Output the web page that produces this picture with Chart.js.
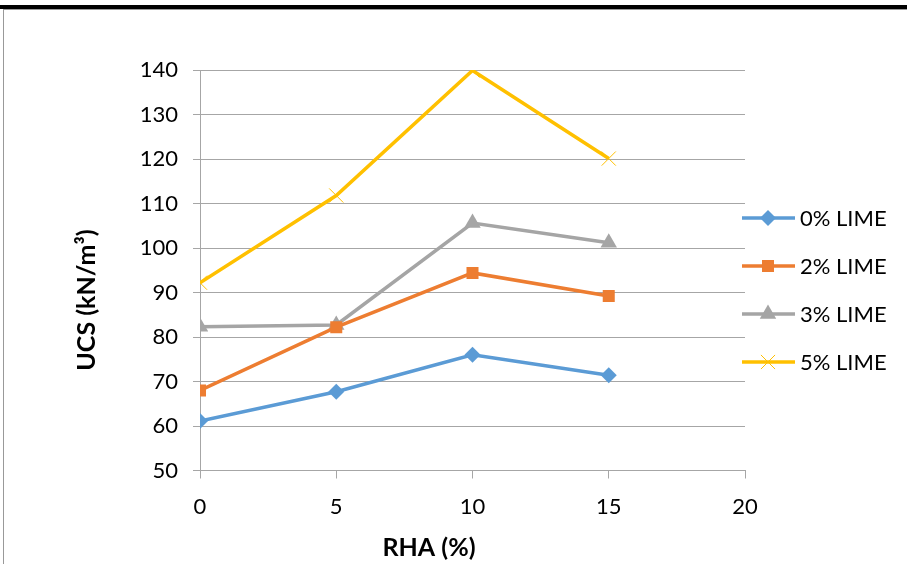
<!DOCTYPE html>
<html>
<head>
<meta charset="utf-8">
<script src="https://cdn.jsdelivr.net/npm/chart.js@4"></script>
<style>
  html, body { margin: 0; padding: 0; background: #fff; }
  #wrap { position: relative; width: 907px; height: 564px; overflow: hidden; }
  #topbar { position: absolute; left: 0; top: 5px; width: 907px; height: 4px; background: #000; }
  #topline { position: absolute; left: 3px; top: 9px; width: 904px; height: 1px; background: #999; }
  #leftline { position: absolute; left: 3px; top: 9px; width: 1px; height: 555px; background: #999; }
  canvas { position: absolute; left: 0; top: 0; }
</style>
</head>
<body>
<div id="wrap">
  <canvas id="c" width="907" height="564"></canvas>
  <div id="topbar"></div>
  <div id="topline"></div>
  <div id="leftline"></div>
</div>
<script>
const rha = [0, 5, 10, 15];
const lime0 = [61.1, 67.7, 76.0, 71.4];
const lime2 = [68.0, 82.2, 94.4, 89.2];
const lime3 = [82.3, 82.7, 105.6, 101.2];
const lime5 = [92.2, 111.8, 139.9, 120.1];
const seriesNames = ['0% LIME', '2% LIME', '3% LIME', '5% LIME'];
const xTitle = 'RHA (%)';
const yTitle = 'UCS (kN/m³)';

const FONT = 'Lato, "Open Sans", sans-serif';
const gridColor = '#a6a6a6';

const styles = [
  { color: '#5b9bd5', point: 'rectRot', r: 8 },
  { color: '#ed7d31', point: 'rect', r: 8.5 },
  { color: '#a5a5a5', point: 'triangle', r: 9.5 },
  { color: '#ffc000', point: 'crossRot', r: 10 }
];

function pts(vals) { return rha.map((x, i) => ({ x, y: vals[i] })); }

const datasets = [lime0, lime2, lime3, lime5].map((vals, i) => ({
  label: seriesNames[i],
  data: pts(vals),
  borderColor: styles[i].color,
  backgroundColor: styles[i].color,
  borderWidth: 3.5,
  pointStyle: styles[i].point,
  pointRadius: styles[i].r,
  pointBorderWidth: styles[i].point === 'crossRot' ? 1 : 0,
  pointBorderColor: styles[i].color,
  tension: 0
}));

// titles and legend drawn by hand so they sit where the original has them
const decor = {
  id: 'decor',
  afterDraw(chart) {
    const ctx = chart.ctx;
    ctx.save();
    ctx.fillStyle = '#000';
    ctx.font = 'bold 25px ' + FONT;
    ctx.textAlign = 'center';
    ctx.textBaseline = 'middle';
    ctx.fillText(xTitle, 429, 548);
    ctx.translate(87, 300);
    ctx.rotate(-Math.PI / 2);
    ctx.fillText(yTitle, 0, 0);
    ctx.restore();

    ctx.save();
    const rows = [218, 266, 314, 362];
    chart.data.datasets.forEach((ds, i) => {
      const y = rows[i];
      ctx.strokeStyle = ds.borderColor;
      ctx.lineWidth = 3.5;
      ctx.beginPath();
      ctx.moveTo(742, y);
      ctx.lineTo(795, y);
      ctx.stroke();
      ctx.fillStyle = ds.backgroundColor;
      ctx.strokeStyle = ds.borderColor;
      ctx.lineWidth = ds.pointBorderWidth || 0.01;
      Chart.helpers.drawPoint(ctx, { pointStyle: ds.pointStyle, radius: ds.pointRadius, borderWidth: ds.pointBorderWidth, rotation: 0 }, 768, y);
      ctx.fillStyle = '#000';
      ctx.font = '22px ' + FONT;
      ctx.textAlign = 'left';
      ctx.textBaseline = 'middle';
      ctx.fillText(ds.label, 800, y + 1);
    });
    ctx.restore();
  }
};

new Chart(document.getElementById('c').getContext('2d'), {
  type: 'line',
  data: { datasets },
  options: {
    responsive: false,
    animation: false,
    layout: { padding: { left: 0, top: 70, right: 162, bottom: 0 } },
    plugins: { legend: { display: false }, tooltip: { enabled: false } },
    scales: {
      x: {
        type: 'linear',
        min: 0, max: 20,
        ticks: { stepSize: 5, color: '#000', font: { family: FONT, size: 22 }, padding: 15 },
        grid: { drawOnChartArea: false, drawTicks: true, tickLength: 8, color: gridColor },
        border: { color: gridColor, width: 1 },
        afterFit(s) { s.height = 93.5; }
      },
      y: {
        min: 50, max: 140,
        ticks: { stepSize: 10, color: '#000', font: { family: FONT, size: 22 }, padding: 15 },
        grid: { color: gridColor, lineWidth: 1, tickLength: 7 },
        border: { color: gridColor, width: 1 },
        afterFit(s) { s.width = 200; }
      }
    }
  },
  plugins: [decor]
});
</script>
</body>
</html>
